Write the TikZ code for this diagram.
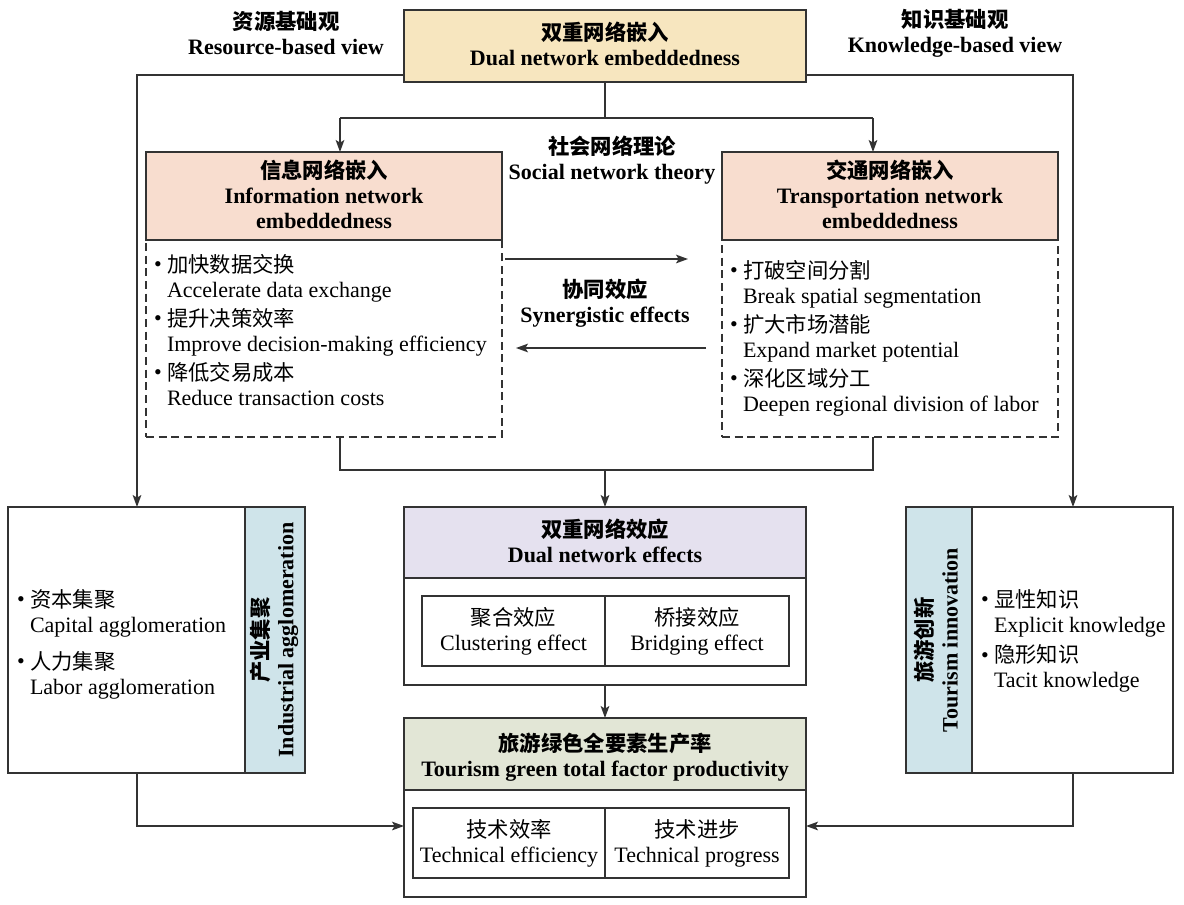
\documentclass[tikz,border=0pt]{standalone}
\usepackage{fontspec}
\setmainfont{Liberation Serif}
\newfontfamily\cjk{Noto Sans CJK SC}
\usetikzlibrary{arrows.meta,fit}
\definecolor{lc}{HTML}{333333}
\definecolor{yel}{HTML}{F7E6BF}
\definecolor{sal}{HTML}{F8DDCF}
\definecolor{lav}{HTML}{E5E1EF}
\definecolor{grn}{HTML}{E2E6D6}
\definecolor{blu}{HTML}{CFE4EA}
\newcommand\zh[1]{{\cjk\fontsize{16}{18.75}\selectfont #1}}
\newcommand\zhb[1]{{\cjk\bfseries\fontsize{16}{18.75}\selectfont #1}}
\newcommand\bul{\makebox[9.75pt][l]{\raisebox{0.5pt}{•}}}
\newcommand\ind{\hspace*{9.75pt}}
\begin{document}
\begin{tikzpicture}[x=0.75pt,y=-0.75pt,
  font=\fontsize{16.5}{18.75}\selectfont,
  box/.style={draw=lc, line width=1pt, inner sep=0pt, outer sep=0pt},
  dbox/.style={box, dashed, dash pattern=on 6pt off 3.5pt},
  txt/.style={inner sep=0pt, outer sep=0pt, align=center},
  btxt/.style={txt, yshift=1.5pt},
  ltxt/.style={inner sep=0pt, outer sep=0pt, align=left, anchor=west},
  ln/.style={draw=lc, line width=1pt},
  arr/.style={ln, -{Stealth[length=9pt,width=6.5pt,inset=2pt]}}]
\useasboundingbox (0,0) rectangle (1184,904);

% top
\node[box, fill=yel, fit={(404,10)(806,82)}] (top) {};
\node[btxt] (topt) at (top.center) {\zhb{双重网络嵌入}\\ \textbf{Dual network embeddedness}};
\node[txt] (rbv) at (286,33) {\zhb{资源基础观}\\ \textbf{Resource-based view}};
\node[txt] (kbv) at (955,33) {\zhb{知识基础观}\\ \textbf{Knowledge-based view}};

% info & transport
\node[dbox, fit={(146,240)(502,437)}] (infob) {};
\node[box, fill=sal, fit={(146,152)(502,240)}] (infoh) {};
\node[btxt] (infoht) at (infoh.center) {\zhb{信息网络嵌入}\\ \textbf{Information network}\\ \textbf{embeddedness}};
\node[dbox, fit={(722,240)(1058,437)}] (transb) {};
\node[box, fill=sal, fit={(722,152)(1058,240)}] (transh) {};
\node[btxt] (transht) at (transh.center) {\zhb{交通网络嵌入}\\ \textbf{Transportation network}\\ \textbf{embeddedness}};
\node[txt] (snt) at (612,160) {\zhb{社会网络理论}\\ \textbf{Social network theory}};
\node[txt] (syn) at (605,303) {\zhb{协同效应}\\ \textbf{Synergistic effects}};

\node[ltxt] (infot) at (154,330) {\bul\zh{加快数据交换}\\
\ind Accelerate data exchange\\[3pt]
\bul\zh{提升决策效率}\\
\ind Improve decision-making efficiency\\[3pt]
\bul\zh{降低交易成本}\\
\ind Reduce transaction costs};
\node[ltxt] (transt) at (730,338) {\bul\zh{打破空间分割}\\
\ind Break spatial segmentation\\[3pt]
\bul\zh{扩大市场潜能}\\
\ind Expand market potential\\[3pt]
\bul\zh{深化区域分工}\\
\ind Deepen regional division of labor};

% left box
\node[box, fit={(8,507)(245,773)}] (lbox) {};
\node[box, fill=blu, fit={(245,507)(305,773)}] (lstrip) {};
\node[txt, rotate=90] (lstript) at (274,640) {\zhb{产业集聚}\\ \textbf{Industrial agglomeration}};
\node[ltxt] (lboxt) at (17,644) {\bul\zh{资本集聚}\\
\ind Capital agglomeration\\[9pt]
\bul\zh{人力集聚}\\
\ind Labor agglomeration};

% right box
\node[box, fill=blu, fit={(906,507)(972,773)}] (rstrip) {};
\node[box, fit={(972,507)(1173,773)}] (rbox) {};
\node[txt, rotate=90] (rstript) at (936,640) {\zhb{旅游创新}\\ \textbf{Tourism innovation}};
\node[ltxt] (rboxt) at (981,641) {\bul\zh{显性知识}\\
\ind Explicit knowledge\\[4pt]
\bul\zh{隐形知识}\\
\ind Tacit knowledge};

% effects
\node[box, fill=lav, fit={(404,507)(806,578)}] (effh) {};
\node[btxt] (effht) at (effh.center) {\zhb{双重网络效应}\\ \textbf{Dual network effects}};
\node[box, fit={(404,578)(806,685)}] (effb) {};
\node[box, fit={(422,596)(605,666)}] (c1) {};
\node[box, fit={(605,596)(789,666)}] (c2) {};
\node[txt] (c1t) at (c1.center) {\zh{聚合效应}\\ Clustering effect};
\node[txt] (c2t) at (c2.center) {\zh{桥接效应}\\ Bridging effect};

% TGTFP
\node[box, fill=grn, fit={(404,718)(806,790)}] (tfh) {};
\node[txt, yshift=-2.5pt] (tfht) at (tfh.center) {\zhb{旅游绿色全要素生产率}\\ \textbf{Tourism green total factor productivity}};
\node[box, fit={(404,790)(806,897)}] (tfb) {};
\node[box, fit={(413,808)(605,878)}] (d1) {};
\node[box, fit={(605,808)(789,878)}] (d2) {};
\node[txt] (d1t) at (d1.center) {\zh{技术效率}\\ Technical efficiency};
\node[txt] (d2t) at (d2.center) {\zh{技术进步}\\ Technical progress};

% connectors
\coordinate (jm) at (605,118);
\coordinate (jl) at (340,118);
\coordinate (jr) at (873,118);
\draw[ln] (top.south) -- (jm);
\draw[ln] (jl) -- (jr);
\draw[arr] (jl) -- (jl |- infoh.north);
\draw[arr] (jr) -- (jr |- transh.north);

\coordinate (a1s) at (505,259);
\coordinate (a1e) at (688,259);
\coordinate (a2s) at (706,348);
\coordinate (a2e) at (516,348);
\draw[arr] (a1s) -- (a1e);
\draw[arr] (a2s) -- (a2e);

\coordinate (bl) at (340,470);
\coordinate (br) at (873,470);
\coordinate (bm) at (605,470);
\draw[ln] (bl |- infob.south) -- (bl) -- (br) -- (br |- transb.south);
\draw[arr] (bm) -- (effh.north);
\draw[arr] (effb.south) -- (tfh.north);

\coordinate (lt) at (137,75);
\coordinate (rt) at (1073,75);
\draw[arr] (top.west |- lt) -- (lt) -- (lt |- lbox.north);
\draw[arr] (top.east |- rt) -- (rt) -- (rt |- rbox.north);
\coordinate (lb) at (137,826);
\coordinate (rb) at (1073,826);
\draw[arr] (lt |- lbox.south) -- (lb) -- (tfb.west |- lb);
\draw[arr] (rt |- rbox.south) -- (rb) -- (tfb.east |- rb);
\end{tikzpicture}
\end{document}
